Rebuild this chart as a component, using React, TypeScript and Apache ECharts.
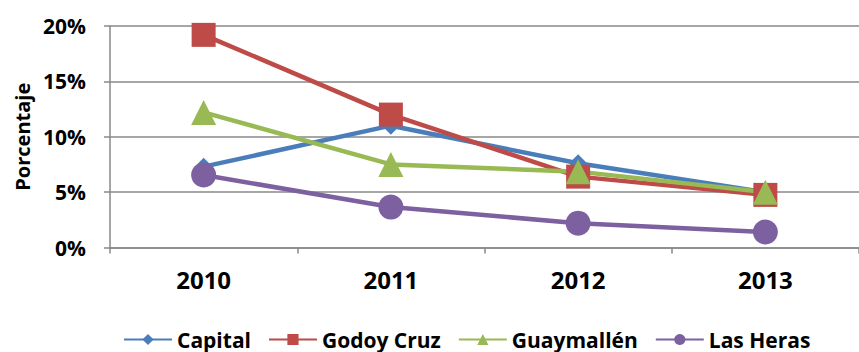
import React, { useEffect, useRef } from "react";
import * as echarts from "echarts";

const categories = ["2010", "2011", "2012", "2013"];
const capital = [0.073, 0.11, 0.076, 0.05];
const godoyCruz = [0.192, 0.12, 0.064, 0.0475];
const guaymallen = [0.122, 0.075, 0.0685, 0.05];
const lasHeras = [0.0655, 0.0365, 0.022, 0.014];
const yTicks = [0, 0.05, 0.1, 0.15, 0.2];

const FONT = "'Open Sans', sans-serif";

export default function App() {
  const ref = useRef<HTMLDivElement>(null);
  useEffect(() => {
    document.body.style.margin = "0";
    const chart = echarts.init(ref.current!, undefined, { renderer: "svg" });
    const mk = (name: string, data: number[], color: string, symbol: string, size: number) => ({
      name,
      type: "line",
      data,
      symbol,
      symbolSize: size,
      lineStyle: { color, width: 4.5 },
      itemStyle: { color },
      z: 2,
    });
    chart.setOption({
      animation: false,
      backgroundColor: "#ffffff",
      textStyle: { fontFamily: FONT },
      grid: { left: 110, top: 26, width: 763, height: 221.5, containLabel: false },
      legend: {
        top: 329,
        left: 123,
        padding: 0,
        itemWidth: 48,
        itemHeight: 14,
        itemGap: 17,
        textStyle: { fontFamily: FONT, fontSize: 21, fontWeight: "bold", color: "#000" },
        data: ["Capital", "Godoy Cruz", "Guaymallén", "Las Heras"],
      },
      xAxis: {
        type: "category",
        data: categories,
        boundaryGap: true,
        axisLine: { lineStyle: { color: "#888", width: 1.5 } },
        axisTick: { show: true, length: 6, lineStyle: { color: "#888", width: 1.5 } },
        axisLabel: { color: "#000", fontSize: 24, fontWeight: "bold", margin: 20, fontFamily: FONT },
        splitLine: { show: false },
      },
      yAxis: {
        type: "value",
        min: yTicks[0],
        max: yTicks[yTicks.length - 1],
        interval: 0.05,
        name: "Porcentaje",
        nameLocation: "middle",
        nameGap: 78,
        nameRotate: 90,
        nameTextStyle: { color: "#000", fontSize: 20, fontWeight: "bold", fontFamily: FONT },
        axisLine: { show: true, lineStyle: { color: "#888", width: 1.5 } },
        axisTick: { show: true, length: 6, lineStyle: { color: "#888", width: 1.5 } },
        axisLabel: {
          color: "#000",
          fontSize: 21,
          fontWeight: "bold",
          margin: 24,
          fontFamily: FONT,
          formatter: (v: number) => Math.round(v * 100) + "%",
        },
        splitLine: { show: true, lineStyle: { color: "#888", width: 1.5 } },
      },
      series: [
        mk("Capital", capital, "#4A7EBB", "diamond", 18),
        mk("Godoy Cruz", godoyCruz, "#BE4B48", "rect", 24),
        mk("Guaymallén", guaymallen, "#98B954", "triangle", 25),
        mk("Las Heras", lasHeras, "#7D60A0", "circle", 25),
      ],
    });
    return () => chart.dispose();
  }, []);
  return <div ref={ref} style={{ width: 859, height: 352 }} />;
}
